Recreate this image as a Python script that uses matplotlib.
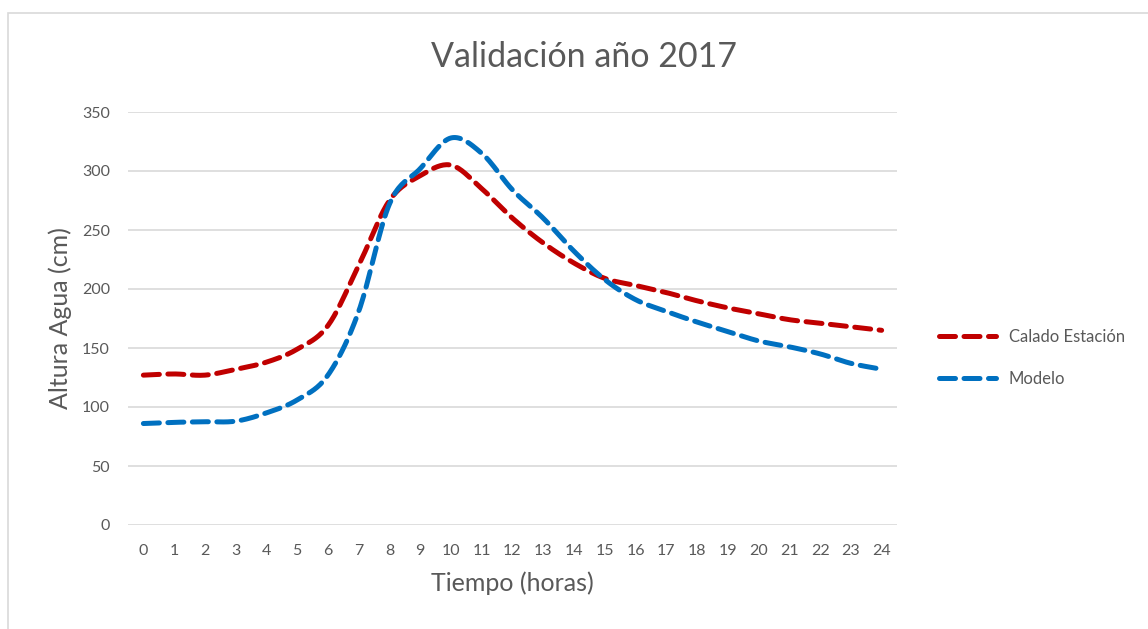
import numpy as np
import matplotlib
matplotlib.use('Agg')
from matplotlib import pyplot as plt
from matplotlib.patches import Rectangle

horas = list(range(25))
calado_estacion = [127, 128, 127, 132, 138, 149, 169, 220, 275, 296, 305, 285,
                   260, 239, 222, 209, 203, 197, 190, 184, 179, 174, 171, 168, 165]
modelo = [86, 87, 87.5, 88, 95, 106, 127, 181, 272, 302, 328, 315,
          284, 260, 232, 208, 191, 181, 172, 164, 156, 151, 145, 137, 132]
y_ticks = [0, 50, 100, 150, 200, 250, 300, 350]

GRIS = '#595959'
plt.rcParams['font.family'] = ['Lato', 'DejaVu Sans']


def suavizar(x, y, n=20):
	# curva Catmull-Rom que pasa por cada punto, como la línea suavizada de Excel
	x = np.asarray(x, float)
	y = np.asarray(y, float)
	px = np.concatenate([[2 * x[0] - x[1]], x, [2 * x[-1] - x[-2]]])
	py = np.concatenate([[2 * y[0] - y[1]], y, [2 * y[-1] - y[-2]]])
	t = np.linspace(0, 1, n, endpoint=False)
	xs, ys = [], []
	for i in range(1, len(px) - 2):
		for p, out in ((px, xs), (py, ys)):
			p0, p1, p2, p3 = p[i - 1], p[i], p[i + 1], p[i + 2]
			out.extend(0.5 * (2 * p1 + (-p0 + p2) * t + (2 * p0 - 5 * p1 + 4 * p2 - p3) * t ** 2
			                  + (-p0 + 3 * p1 - 3 * p2 + p3) * t ** 3))
	xs.append(x[-1])
	ys.append(y[-1])
	return xs, ys


fig = plt.figure(figsize=(11.48, 6.29), dpi=100)
W, H = 1148, 629
ax = fig.add_axes([128 / W, 1 - 525 / H, (897 - 128) / W, (525 - 112) / H])

# marco del gráfico
fig.patches.append(Rectangle((8 / W, -0.05), 1.2, 1 - 13 / H + 0.05, transform=fig.transFigure,
                             fill=False, edgecolor='#D9D9D9', linewidth=1.2))

estilo = dict(linewidth=3.6, dashes=(3.2, 1.7), dash_capstyle='round')
ax.plot(*suavizar(horas, calado_estacion), color='#C00000', label='Calado Estación', **estilo)
ax.plot(*suavizar(horas, modelo), color='#0070C0', label='Modelo', **estilo)

ax.set_xlim(-0.5, 24.5)
ax.set_ylim(0, 350)
ax.set_xticks(horas)
ax.set_yticks(y_ticks)
ax.tick_params(length=0, labelsize=11.5, labelcolor=GRIS)
ax.tick_params(axis='y', pad=13)
ax.tick_params(axis='x', pad=13.5)
ax.yaxis.grid(True, color='#D9D9D9', linewidth=1.2)
ax.set_axisbelow(True)
for s in ax.spines.values():
	s.set_visible(False)

ax.set_ylabel('Altura Agua (cm)', fontsize=18, color=GRIS, labelpad=7)
ax.set_xlabel('Tiempo (horas)', fontsize=18, color=GRIS, labelpad=10)
fig.text(584 / W, 1 - 57 / H, 'Validación año 2017', fontsize=24.5, color=GRIS, ha='center', va='center')

fig.legend(loc='center left', bbox_to_anchor=(924 / W, 1 - 358 / H), frameon=False,
           fontsize=12, labelcolor=GRIS, handlelength=3.4, labelspacing=1.55, handletextpad=0.8)

plt.savefig('out.png', dpi=100)
